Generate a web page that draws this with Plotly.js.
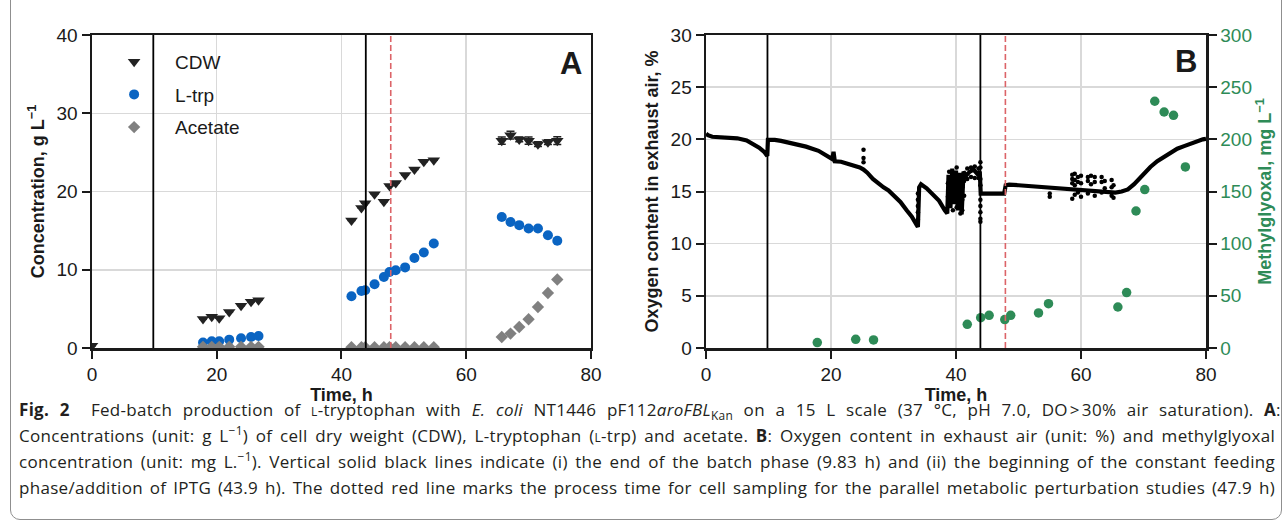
<!DOCTYPE html>
<html>
<head>
<meta charset="utf-8">
<script src="https://cdn.plot.ly/plotly-3.0.1.min.js"></script>
<style>
  html, body { margin:0; padding:0; background:#fff; overflow:hidden; }
  #wrap { position:relative; width:1284px; height:525px; overflow:hidden; }
  #chart { position:absolute; left:0; top:0; width:1284px; height:525px; }
  #frame { position:absolute; left:10px; top:-14px; width:1272px; height:534px;
           border:1px solid #8f8f8f; border-radius:10px; box-sizing:border-box; pointer-events:none; }
  #cap { position:absolute; left:19px; top:397px; width:1257px;
         font-family:"Open Sans","Noto Sans",sans-serif; font-size:16px; line-height:26px; color:#231f20; }
  #cap .row { height:26px; white-space:nowrap; }
  #cap .ln { white-space:nowrap; }
  #cap sup, #cap sub { font-size:70%; line-height:0; }
  .sc { font-variant:small-caps; }
</style>
</head>
<body>
<div id="wrap">
  <div id="chart"></div>
  <div id="frame"></div>
  <div id="cap">
    <div class="row"><span class="ln"><b>Fig. 2</b>&nbsp; Fed-batch production of <span class="sc">l</span>-tryptophan with <i>E. coli</i> NT1446 pF112<i>aroFBL</i><sub>Kan</sub> on a 15 L scale (37 °C, pH 7.0, DO&#8202;&gt;&#8202;30% air saturation). <b>A</b>:</span></div>
    <div class="row"><span class="ln">Concentrations (unit: g L<sup>−1</sup>) of cell dry weight (CDW), L-tryptophan (<span class="sc">l</span>-trp) and acetate. <b>B</b>: Oxygen content in exhaust air (unit: %) and methylglyoxal</span></div>
    <div class="row"><span class="ln">concentration (unit: mg L.<sup>−1</sup>). Vertical solid black lines indicate (i) the end of the batch phase (9.83 h) and (ii) the beginning of the constant feeding</span></div>
    <div class="row"><span class="ln">phase/addition of IPTG (43.9 h). The dotted red line marks the process time for cell sampling for the parallel metabolic perturbation studies (47.9 h)</span></div>
  </div>
</div>
<script>
// ---------- Panel A data ----------
const timeA = [0, 17.8, 19.2, 20.4, 22.0, 23.9, 25.5, 26.7,
               41.6, 43.2, 43.8, 45.3, 46.8, 47.7, 48.7, 50.2, 51.7, 53.2, 54.8,
               65.7, 67.1, 68.5, 70.0, 71.5, 73.1, 74.6];
const cdw = [0.3, 3.7, 4.0, 3.8, 4.6, 5.4, 5.9, 6.1,
             16.3, 17.9, 18.5, 19.65, 18.7, 20.7, 21.1, 22.1, 22.8, 23.8, 24.0,
             26.5, 27.2, 26.65, 26.5, 26.05, 26.3, 26.5];
const cdwErr = [0, 0, 0, 0, 0, 0, 0, 0,
                0, 0, 0, 0, 0, 0, 0, 0, 0, 0, 0,
                0.45, 0.5, 0.3, 0.45, 0.3, 0.3, 0.5];
const ltrp = [null, 0.69, 0.86, 0.86, 1.07, 1.24, 1.41, 1.53,
              6.61, 7.29, 7.38, 8.15, 9.08, 9.72, 9.94, 10.3, 11.5, 12.2, 13.35,
              16.75, 16.1, 15.7, 15.27, 15.27, 14.4, 13.7];
const acetate = [null, 0.15, 0.15, 0.15, 0.15, 0.15, 0.15, 0.15,
                 0.1, 0.1, 0.1, 0.1, 0.1, 0.1, 0.1, 0.1, 0.1, 0.1, 0.1,
                 1.41, 1.84, 2.69, 3.67, 5.24, 7.03, 8.75];

// ---------- Panel B data ----------
const o2Time = [0,0.3,1,3,5,6.5,7.5,8.5,9.3,9.8,
                9.9,11,12,14,16,18,19.8,20.2,20.4,20.6,
                21.6,23,24.6,25.2,25.4,25.8,26.7,27.6,28.4,29.2,
                30.2,31.1,32.1,32.9,33.7,33.9,34.1,34.4,35.3,36.4,
                37.3,38.2,38.6,38.8,39.1,39.4,39.7,40.0,40.3,40.6,
                40.9,41.2,41.6,42.2,42.8,43.4,43.8,43.95,44.5,46,
                47.7,47.95,48.5,50,52,54,56,58,60,62,
                64,65.5,66.5,67.5,68.5,69.3,70.2,71.1,72.2,73.3,
                74.3,75.4,76.5,77.5,78.5,79.5,80];
const o2Value = [20.55,20.4,20.25,20.2,20.1,19.9,19.6,19.2,18.8,18.4,
                 19.95,19.95,19.85,19.6,19.3,18.9,18.2,18.1,18.8,17.9,
                 17.85,17.6,17.3,17.1,17.0,16.8,16.2,15.75,15.4,15.1,
                 14.5,14.0,13.2,12.6,11.8,11.6,15.4,15.7,15.3,14.7,
                 14.1,13.2,12.9,16.6,13.4,17.2,13.8,17.0,13.2,16.8,
                 12.8,16.9,16.5,16.9,17.1,16.7,16.9,14.8,14.8,14.75,
                 14.8,15.6,15.65,15.6,15.5,15.4,15.3,15.3,15.2,15.1,
                 15.0,14.9,15.0,15.2,15.7,16.2,16.8,17.35,17.9,18.35,
                 18.75,19.1,19.35,19.6,19.8,20.0,20.05];
// scattered single readings of the exhaust-gas analyser
const o2ScatterTime = [25.2,25.2,25.2,
  33.9,33.9,33.9,33.9,33.9,
  38.7,38.7,38.9,38.9,38.9,39.2,39.2,39.5,39.5,39.5,39.8,39.8,39.8,
  40.1,40.1,40.1,40.1,40.4,40.4,40.7,40.7,40.7,41.0,41.0,41.0,41.3,41.3,
  41.8,41.8,42.4,42.4,43.0,43.0,43.6,43.6,
  43.9,43.9,43.9,43.9,43.9,43.9,43.9,43.9,43.9,
  55.0,55.0,
  58.6,58.6,58.6,58.6,59.0,59.0,59.0,59.0,59.5,59.5,59.5,60.0,60.0,60.0,
  61.1,61.1,61.1,61.6,61.6,62.2,62.2,62.2,
  63.3,63.3,63.3,63.8,63.8,
  64.9,64.9,64.9,65.2,65.2];
const o2ScatterValue = [19.0,18.2,17.8,
  14.8,14.2,13.6,13.0,12.3,
  14.5,15.8,16.9,15.2,14.0,16.4,15.0,16.0,14.6,13.2,16.4,15.3,14.2,
  17.3,15.7,14.5,13.5,16.2,15.0,15.6,14.0,12.9,15.4,14.2,13.2,16.0,14.6,
  17.2,16.2,17.3,16.4,17.4,16.3,17.2,16.3,
  17.8,17.3,16.2,15.6,14.2,13.6,13.0,12.4,12.1,
  14.8,14.5,
  16.6,16.2,15.8,14.3,16.7,16.1,15.6,14.7,16.4,15.9,14.9,16.5,15.8,14.5,
  16.4,16.0,14.8,16.5,15.7,16.4,15.9,14.6,
  16.4,15.9,14.9,16.0,15.3,
  16.1,15.4,14.6,15.6,14.4];
const mgTime = [17.8,23.95,26.8,41.8,43.95,45.3,47.8,48.75,53.2,54.8,65.9,67.3,68.8,70.2,71.8,73.3,74.8,76.7];
const mgValue = [5.2,8.3,7.7,22.7,29.1,31.3,27.2,31.3,33.6,42.5,39.3,53.1,131.3,151.8,236.5,226.2,223,173.5];

// ---------- Event times (h) ----------
const phaseLines = [9.83, 43.9];   // end of batch, start of constant feed / IPTG
const samplingLine = [47.9];       // cell sampling

// ---------- Labels ----------
const seriesNames = ['CDW', 'L-trp', 'Acetate'];
const xTitle = 'Time, h';
const yTitleA = 'Concentration, g L<sup>−1</sup>';
const yTitleB = 'Oxygen content in exhaust air, %';
const yTitleB2 = 'Methylglyoxal, mg L<sup>−1</sup>';

const FONT = 'Liberation Sans, Arial, Helvetica, sans-serif';
const INK = '#1a1a1a';
const GREEN = '#2e8b57';
const BLUE = '#0a64c2';
const GREY = '#808080';
const RED = '#dc6468';

const traces = [
  { x: timeA, y: cdw, name: seriesNames[0], type: 'scatter', mode: 'markers',
    xaxis: 'x', yaxis: 'y', legendgroup: 'g1',
    marker: { symbol: 'triangle-down', size: 11, color: '#222222' },
    error_y: { type: 'data', array: cdwErr, visible: true, color: '#222222', thickness: 1.5, width: 4 } },
  { x: timeA, y: ltrp, name: seriesNames[1], type: 'scatter', mode: 'markers',
    xaxis: 'x', yaxis: 'y', legendgroup: 'g2',
    marker: { symbol: 'circle', size: 10, color: BLUE } },
  { x: timeA, y: acetate, name: seriesNames[2], type: 'scatter', mode: 'markers',
    xaxis: 'x', yaxis: 'y', legendgroup: 'g3',
    marker: { symbol: 'diamond', size: 9.5, color: GREY } },
  { x: o2Time, y: o2Value, name: 'O2', type: 'scatter', mode: 'lines',
    xaxis: 'x2', yaxis: 'y2', showlegend: false,
    line: { color: '#000000', width: 4.2 } },
  { x: o2ScatterTime, y: o2ScatterValue, name: 'O2 readings', type: 'scatter', mode: 'markers',
    xaxis: 'x2', yaxis: 'y2', showlegend: false,
    marker: { color: '#000000', size: 4.5 } },
  { x: mgTime, y: mgValue, name: 'Methylglyoxal', type: 'scatter', mode: 'markers',
    xaxis: 'x2', yaxis: 'y3', showlegend: false,
    marker: { color: GREEN, size: 9.5 } }
];

function xAxis(domain, anchor) {
  return { domain: domain, anchor: anchor, range: [0, 80], tick0: 0, dtick: 20,
    ticks: 'outside', ticklen: 8, tickwidth: 2, tickcolor: INK,
    showline: true, linewidth: 2.5, linecolor: INK, mirror: true,
    showgrid: true, gridcolor: '#d9d9d9', gridwidth: 1.5, zeroline: false,
    tickfont: { family: FONT, size: 19, color: INK },
    title: { text: xTitle, standoff: 0, font: { family: FONT, size: 18, color: INK, weight: 'bold' } } };
}
function yAxis(range, dtick, anchor, title) {
  return { domain: [0, 1], anchor: anchor, range: range, tick0: 0, dtick: dtick,
    ticks: 'outside', ticklen: 8, tickwidth: 2, tickcolor: INK,
    showline: true, linewidth: 2.5, linecolor: INK, mirror: true,
    showgrid: true, gridcolor: '#d9d9d9', gridwidth: 1.5, zeroline: false,
    tickfont: { family: FONT, size: 19, color: INK },
    title: { text: title, standoff: 8, font: { family: FONT, size: 18, color: INK, weight: 'bold' } } };
}

const shapes = [];
phaseLines.forEach(t => {
  ['x', 'x2'].forEach((xr, i) => shapes.push({ type: 'line', layer: 'above',
    xref: xr, yref: (i === 0 ? 'y domain' : 'y2 domain'), x0: t, x1: t, y0: 0, y1: 1,
    line: { color: '#000', width: 1.8 } }));
});
samplingLine.forEach(t => {
  ['x', 'x2'].forEach((xr, i) => shapes.push({ type: 'line', layer: 'above',
    xref: xr, yref: (i === 0 ? 'y domain' : 'y2 domain'), x0: t, x1: t, y0: 0, y1: 1,
    line: { color: RED, width: 1.6, dash: '6px,3px' } }));
});

const layout = {
  width: 1284, height: 525,
  margin: { l: 92, r: 78, t: 35, b: 177 },
  paper_bgcolor: 'rgba(0,0,0,0)', plot_bgcolor: '#ffffff',
  font: { family: FONT, size: 18, color: INK },
  showlegend: true,
  legend: { x: 0.001, y: 0.975, xanchor: 'left', yanchor: 'top', bgcolor: 'rgba(0,0,0,0)',
            borderwidth: 0, itemwidth: 72, tracegroupgap: 5, traceorder: 'grouped',
            font: { family: FONT, size: 19, color: INK } },
  xaxis: xAxis([0, 0.4479], 'y'),
  yaxis: yAxis([0, 40], 10, 'x', yTitleA),
  xaxis2: xAxis([0.5512, 1], 'y2'),
  yaxis2: yAxis([0, 30], 5, 'x2', yTitleB),
  yaxis3: { overlaying: 'y2', anchor: 'x2', side: 'right', range: [0, 300], tick0: 0, dtick: 50,
    ticks: 'outside', ticklen: 8, tickwidth: 2, tickcolor: INK,
    showline: true, linewidth: 2.5, linecolor: INK, showgrid: false, zeroline: false,
    tickfont: { family: FONT, size: 19, color: GREEN },
    title: { text: yTitleB2, standoff: 8, font: { family: FONT, size: 18, color: GREEN, weight: 'bold' } } },
  shapes: shapes,
  annotations: [
    { text: 'A', xref: 'x domain', yref: 'y domain', x: 0.96, y: 0.91, xanchor: 'center', yanchor: 'middle',
      showarrow: false, font: { family: FONT, size: 31, color: INK, weight: 'bold' } },
    { text: 'B', xref: 'x2 domain', yref: 'y2 domain', x: 0.96, y: 0.915, xanchor: 'center', yanchor: 'middle',
      showarrow: false, font: { family: FONT, size: 31, color: INK, weight: 'bold' } }
  ]
};

Plotly.newPlot('chart', traces, layout, { staticPlot: true, displayModeBar: false });

function fitCaption() {
  const target = 1256;
  const cap = document.getElementById('cap');
  const lines = Array.from(document.querySelectorAll('#cap .ln'));
  cap.style.fontSize = '16px';
  lines.forEach(el => { el.style.wordSpacing = '0px'; el.style.letterSpacing = '0px'; });
  const maxW = Math.max.apply(null, lines.map(el => el.getBoundingClientRect().width));
  const fs = Math.min(17, 16 * target / maxW * 0.995);
  cap.style.fontSize = fs + 'px';
  lines.forEach(el => {
    let w = el.getBoundingClientRect().width;
    const txt = el.textContent;
    const n = (txt.match(/ /g) || []).length;
    if (w > target) {
      el.style.letterSpacing = ((target - w) / txt.length) + 'px';
    } else {
      const ls = Math.min(0.3, (target - w) * 0.5 / txt.length);
      el.style.letterSpacing = ls + 'px';
    }
    w = el.getBoundingClientRect().width;
    if (w < target && n > 0) el.style.wordSpacing = ((target - w) / n) + 'px';
  });
}
fitCaption();
if (document.fonts && document.fonts.ready) document.fonts.ready.then(fitCaption);
</script>
</body>
</html>
